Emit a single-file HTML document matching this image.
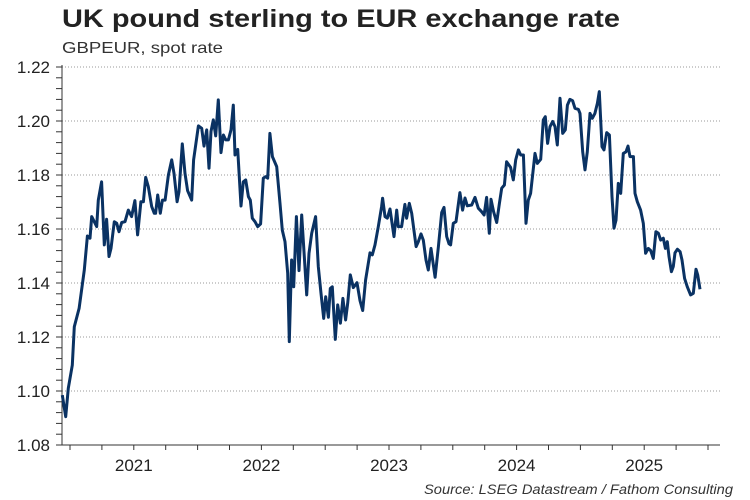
<!DOCTYPE html>
<html><head><meta charset="utf-8"><style>
html,body{margin:0;padding:0;background:#fff;}
#wrap{position:relative;width:750px;height:500px;overflow:hidden;font-family:"Liberation Sans",Arial,sans-serif;}
</style></head><body>
<div id="wrap">
<svg id="chart" width="750" height="500" viewBox="0 0 750 500">
<text x="62" y="27" font-size="25" font-weight="bold" fill="#222" textLength="558" lengthAdjust="spacingAndGlyphs">UK pound sterling to EUR exchange rate</text>
<text x="62" y="53" font-size="16" fill="#333" textLength="161" lengthAdjust="spacingAndGlyphs">GBPEUR, spot rate</text>
<text x="733" y="494" font-size="13.5" font-style="italic" fill="#333" text-anchor="end" textLength="309" lengthAdjust="spacingAndGlyphs">Source: LSEG Datastream / Fathom Consulting</text>
<g id="grid"></g>
<g id="axes"></g>
<g id="series"></g>
</svg>
</div>
<script>
const dates = [2020.940,2020.966,2020.987,2021.018,2021.034,2021.071,2021.112,2021.136,2021.157,2021.170,2021.209,2021.222,2021.248,2021.269,2021.287,2021.306,2021.321,2021.347,2021.366,2021.384,2021.405,2021.431,2021.457,2021.483,2021.509,2021.530,2021.556,2021.575,2021.593,2021.614,2021.640,2021.661,2021.671,2021.687,2021.708,2021.724,2021.745,2021.771,2021.797,2021.815,2021.839,2021.854,2021.880,2021.901,2021.922,2021.954,2021.969,2022.006,2022.032,2022.050,2022.071,2022.089,2022.105,2022.123,2022.142,2022.162,2022.183,2022.202,2022.220,2022.241,2022.262,2022.280,2022.293,2022.314,2022.340,2022.358,2022.377,2022.398,2022.413,2022.429,2022.450,2022.471,2022.494,2022.515,2022.533,2022.549,2022.567,2022.586,2022.620,2022.646,2022.664,2022.685,2022.706,2022.719,2022.737,2022.753,2022.774,2022.795,2022.816,2022.836,2022.855,2022.873,2022.894,2022.925,2022.946,2022.967,2022.988,2023.004,2023.025,2023.040,2023.056,2023.079,2023.098,2023.119,2023.139,2023.160,2023.176,2023.197,2023.220,2023.249,2023.273,2023.294,2023.317,2023.351,2023.369,2023.390,2023.416,2023.442,2023.450,2023.469,2023.487,2023.508,2023.539,2023.560,2023.573,2023.599,2023.625,2023.638,2023.659,2023.678,2023.712,2023.730,2023.751,2023.769,2023.790,2023.808,2023.829,2023.861,2023.887,2023.913,2023.931,2023.952,2023.970,2023.983,2024.004,2024.025,2024.056,2024.077,2024.096,2024.114,2024.148,2024.174,2024.200,2024.226,2024.245,2024.265,2024.286,2024.299,2024.320,2024.344,2024.365,2024.383,2024.404,2024.422,2024.453,2024.474,2024.493,2024.514,2024.532,2024.553,2024.574,2024.592,2024.610,2024.644,2024.662,2024.689,2024.709,2024.725,2024.743,2024.762,2024.783,2024.801,2024.819,2024.840,2024.861,2024.882,2024.898,2024.918,2024.939,2024.958,2024.984,2024.997,2025.018,2025.036,2025.054,2025.075,2025.093,2025.114,2025.133,2025.148,2025.169,2025.185,2025.206,2025.227,2025.248,2025.263,2025.279,2025.297,2025.316,2025.336,2025.357,2025.373,2025.389,2025.415,2025.428,2025.446,2025.472,2025.493,2025.511,2025.532,2025.551,2025.571,2025.592,2025.611,2025.629,2025.650,2025.666,2025.681,2025.694,2025.713,2025.728,2025.741,2025.760,2025.781,2025.796,2025.817,2025.838,2025.864,2025.885,2025.906,2025.919,2025.937];
const rates = [1.0985,1.0905,1.101,1.1096,1.1238,1.1306,1.1448,1.1574,1.1566,1.1646,1.1609,1.1707,1.1775,1.1541,1.1636,1.1498,1.1528,1.1627,1.1621,1.159,1.1624,1.1627,1.167,1.1646,1.1705,1.1578,1.1701,1.1701,1.1791,1.1757,1.1683,1.1658,1.1658,1.1726,1.1658,1.1707,1.1707,1.18,1.1856,1.1806,1.1701,1.1738,1.1915,1.1806,1.1742,1.1707,1.1856,1.1982,1.1973,1.1907,1.1967,1.1825,1.1961,1.2004,1.1945,1.2078,1.1883,1.1948,1.193,1.193,1.1967,1.2059,1.1874,1.1895,1.1685,1.1775,1.1782,1.172,1.1707,1.164,1.1627,1.1609,1.1619,1.1788,1.1794,1.1788,1.1954,1.1868,1.1831,1.1695,1.1596,1.1553,1.1436,1.1183,1.1485,1.1386,1.1646,1.1446,1.1652,1.1498,1.1356,1.151,1.1584,1.1646,1.1461,1.1362,1.1269,1.1349,1.1273,1.138,1.1386,1.1191,1.1319,1.1251,1.1343,1.1263,1.1325,1.143,1.1383,1.1401,1.1335,1.1298,1.1411,1.1512,1.1504,1.1541,1.1609,1.1683,1.1714,1.1646,1.164,1.1674,1.1572,1.167,1.1609,1.1609,1.1691,1.164,1.1695,1.1658,1.1535,1.1553,1.1582,1.1559,1.1485,1.1448,1.1528,1.1421,1.1535,1.1661,1.168,1.1572,1.1545,1.1541,1.1621,1.1627,1.1735,1.167,1.1715,1.1686,1.1689,1.1717,1.1677,1.1664,1.1652,1.1717,1.1584,1.171,1.1664,1.1624,1.1695,1.1751,1.1763,1.1849,1.1828,1.1782,1.1856,1.1893,1.1874,1.1874,1.1621,1.1707,1.1732,1.188,1.1843,1.1858,1.2004,1.2016,1.1917,1.1979,1.1998,1.1979,1.1911,1.2084,1.1954,1.1967,1.2059,1.208,1.2075,1.2047,1.2043,1.2028,1.1886,1.1819,1.1886,1.2028,1.201,1.2028,1.2066,1.2109,1.1905,1.1893,1.1957,1.1948,1.172,1.1603,1.1633,1.1769,1.1732,1.188,1.1886,1.1907,1.1868,1.1868,1.1732,1.1701,1.167,1.1621,1.151,1.1528,1.152,1.1491,1.159,1.1584,1.1559,1.1566,1.1528,1.1553,1.1498,1.1442,1.1461,1.1512,1.1525,1.1516,1.1485,1.1417,1.1386,1.1356,1.1362,1.1451,1.143,1.1377];
const yTicks = [1.08,1.10,1.12,1.14,1.16,1.18,1.20,1.22];
const yearLabels = ["2021","2022","2023","2024","2025"];

const NS="http://www.w3.org/2000/svg";
const X0=62,X1=720,Y0=445,YT=67;
function xs(d){return 70+(d-2021)*127.6;}
function ys(v){return Y0-(v-1.08)/(1.22-1.08)*(Y0-YT);}
function mk(tag,attrs,parent){const e=document.createElementNS(NS,tag);for(const k in attrs)e.setAttribute(k,attrs[k]);parent.appendChild(e);return e;}
const grid=document.getElementById('grid'),axes=document.getElementById('axes'),series=document.getElementById('series');

yTicks.forEach(function(t){
  const y=ys(t);
  if(t>1.08){const g=mk('line',{x1:X0,x2:X1,y1:y,y2:y,stroke:'#999','stroke-width':1,'stroke-dasharray':'1,2'},grid);
  
  }
  const tx=mk('text',{x:50,y:y+6,'font-size':17,'text-anchor':'end',fill:'#222'},axes);
  tx.textContent=t.toFixed(2);
  
  
});
for(let v=1.08;v<=1.2201;v+=0.004){const y=ys(v);mk('line',{x1:56,x2:X0,y1:y,y2:y,stroke:'#333','stroke-width':1},axes);}
mk('line',{x1:X0,x2:X0,y1:YT-2,y2:Y0,stroke:'#333','stroke-width':1},axes);
mk('line',{x1:X0,x2:X1,y1:Y0,y2:Y0,stroke:'#333','stroke-width':1},axes);
for(let q=0;q<=20;q++){const x=xs(2021+q/4);mk('line',{x1:x,x2:x,y1:Y0,y2:Y0+5,stroke:'#333','stroke-width':1},axes);}
yearLabels.forEach(function(l,i){
  const tx=mk('text',{x:xs(2021+i+0.5),y:471,'font-size':17,'text-anchor':'middle',fill:'#222'},axes);
  tx.textContent=l;
  
  
});
let d='';
dates.forEach(function(dt,i){d+=(i?'L':'M')+xs(dt).toFixed(1)+','+ys(rates[i]).toFixed(1);});
const p=mk('path',{d:d,fill:'none',stroke:'#0a3263','stroke-width':3,'stroke-linejoin':'round'},series);


</script>
</body></html>
